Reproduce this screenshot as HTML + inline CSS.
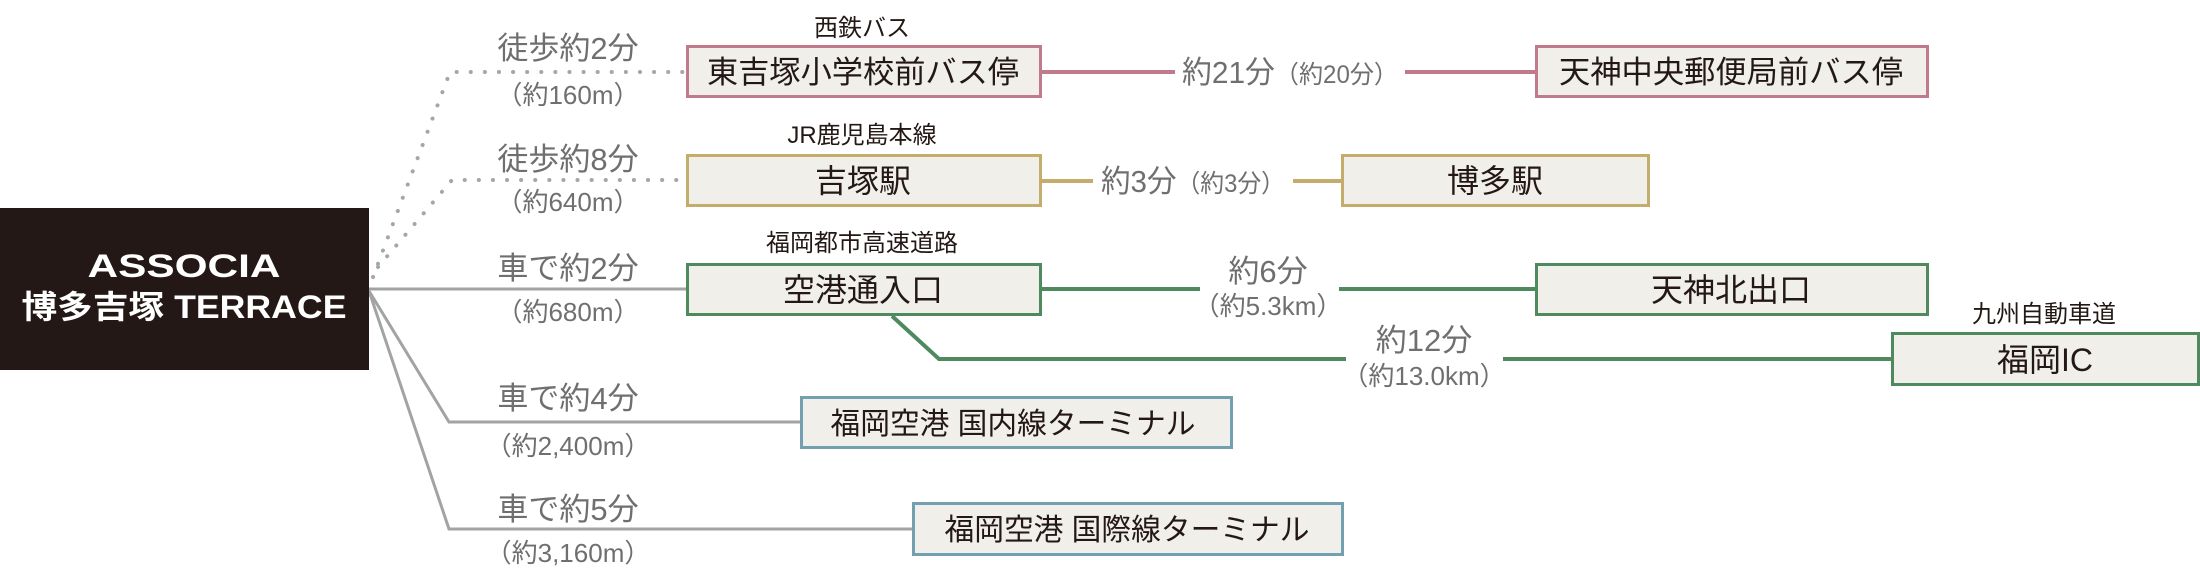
<!DOCTYPE html>
<html><head><meta charset="utf-8"><style>
html,body{margin:0;padding:0;background:#fff;}
svg{display:block;}
text{font-family:"Liberation Sans","Noto Sans CJK JP",sans-serif;}
.g{fill:#6f6f6f;}
.b{fill:#231815;}
</style></head><body>
<svg width="2200" height="580" viewBox="0 0 2200 580" xmlns="http://www.w3.org/2000/svg">
<g fill="none" stroke="#a6a6a6" stroke-width="4" stroke-linecap="round" stroke-dasharray="0.1 14">
<path d="M373 277 L450 72 L686 72"/>
<path d="M378 267 L452 180 L686 180"/>
</g>
<g fill="none" stroke="#a3a3a3" stroke-width="3">
<path d="M369 289 L686 289"/>
<path d="M369 291 L449 422 L800 422"/>
<path d="M369 291 L449 529 L912 529"/>
</g>
<g fill="none" stroke-width="4">
<path d="M1042 72 H1175 M1405 72 H1535" stroke="#c07a8c"/>
<path d="M1042 181 H1093 M1293 181 H1341" stroke="#c4ad6c"/>
<path d="M1042 289 H1200 M1339 289 H1535" stroke="#4f8a5f"/>
<path d="M892 316 L939 359 H1346 M1503 359 H1891" stroke="#4f8a5f"/>
</g>
<rect x="0" y="208" width="369" height="162" fill="#231815"/>
<text x="184" y="277" fill="#fff" font-size="32" font-weight="bold" text-anchor="middle" textLength="193" lengthAdjust="spacingAndGlyphs">ASSOCIA</text>
<text x="184" y="318" fill="#fff" font-size="32" font-weight="bold" text-anchor="middle" textLength="325" lengthAdjust="spacingAndGlyphs">博多吉塚 TERRACE</text>
<g fill="#f1efea" stroke-width="3">
<rect x="687.5" y="46.5" width="353" height="50" stroke="#c07a8c"/>
<rect x="1536.5" y="46.5" width="391" height="50" stroke="#c07a8c"/>
<rect x="687.5" y="155.5" width="353" height="50" stroke="#c4ad6c"/>
<rect x="1342.5" y="155.5" width="306" height="50" stroke="#c4ad6c"/>
<rect x="687.5" y="264.5" width="353" height="50" stroke="#4f8a5f"/>
<rect x="1536.5" y="264.5" width="391" height="50" stroke="#4f8a5f"/>
<rect x="1892.5" y="333.5" width="306" height="51" stroke="#4f8a5f"/>
<rect x="801.5" y="397.5" width="430" height="50" stroke="#72a0b1"/>
<rect x="913.5" y="503.5" width="429" height="51" stroke="#72a0b1"/>
</g>
<g font-size="32" class="b" text-anchor="middle">
<text x="863" y="83" font-size="31" textLength="312" lengthAdjust="spacingAndGlyphs">東吉塚小学校前バス停</text>
<text x="1731" y="83" font-size="31" textLength="344" lengthAdjust="spacingAndGlyphs">天神中央郵便局前バス停</text>
<text x="863" y="192">吉塚駅</text>
<text x="1495" y="192">博多駅</text>
<text x="863" y="301">空港通入口</text>
<text x="1731" y="301">天神北出口</text>
<text x="2045" y="371">福岡IC</text>
<text x="1013" y="434" font-size="30" textLength="365" lengthAdjust="spacingAndGlyphs">福岡空港 国内線ターミナル</text>
<text x="1127" y="540" font-size="30" textLength="365" lengthAdjust="spacingAndGlyphs">福岡空港 国際線ターミナル</text>
</g>
<g font-size="24" class="b" text-anchor="middle">
<text x="862" y="36">西鉄バス</text>
<text x="862" y="143">JR鹿児島本線</text>
<text x="862" y="251">福岡都市高速道路</text>
<text x="2044" y="322">九州自動車道</text>
</g>
<g class="g" text-anchor="middle">
<g font-size="31">
<text x="568" y="59">徒歩約2分</text>
<text x="568" y="170">徒歩約8分</text>
<text x="568" y="279">車で約2分</text>
<text x="568" y="409">車で約4分</text>
<text x="568" y="520">車で約5分</text>
<text x="1268" y="282">約6分</text>
<text x="1424" y="351">約12分</text>
</g>
<g font-size="26">
<text x="568" y="104">（約160m）</text>
<text x="568" y="211">（約640m）</text>
<text x="568" y="321">（約680m）</text>
<text x="568" y="455">（約2,400m）</text>
<text x="568" y="562">（約3,160m）</text>
<text x="1268" y="315">（約5.3km）</text>
<text x="1424" y="385">（約13.0km）</text>
</g>
<text x="1290" y="83" font-size="31" textLength="216" lengthAdjust="spacingAndGlyphs">約21分<tspan font-size="25">（約20分）</tspan></text>
<text x="1193" y="192" font-size="31" textLength="184" lengthAdjust="spacingAndGlyphs">約3分<tspan font-size="25">（約3分）</tspan></text>
</g>
</svg>
</body></html>
